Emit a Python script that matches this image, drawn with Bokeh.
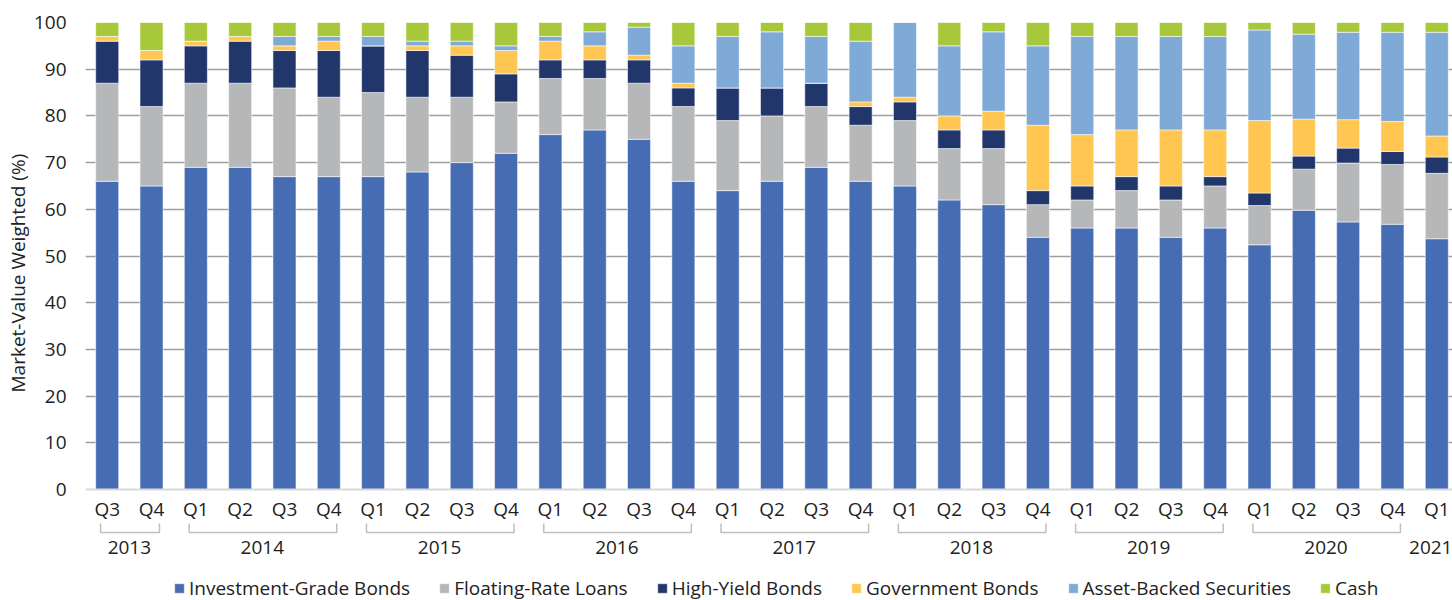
import math
from bokeh.plotting import figure
from bokeh.models import (ColumnDataSource, FixedTicker, LinearAxis, Range1d, Legend,
                          LegendItem, Title)
from bokeh.embed import file_html
from bokeh.resources import INLINE

# ---------------- data ----------------
years = ["2013", "2013",
         "2014", "2014", "2014", "2014",
         "2015", "2015", "2015", "2015",
         "2016", "2016", "2016", "2016",
         "2017", "2017", "2017", "2017",
         "2018", "2018", "2018", "2018",
         "2019", "2019", "2019", "2019",
         "2020", "2020", "2020", "2020",
         "2021"]
quarters = ["Q3", "Q4",
            "Q1", "Q2", "Q3", "Q4",
            "Q1", "Q2", "Q3", "Q4",
            "Q1", "Q2", "Q3", "Q4",
            "Q1", "Q2", "Q3", "Q4",
            "Q1", "Q2", "Q3", "Q4",
            "Q1", "Q2", "Q3", "Q4",
            "Q1", "Q2", "Q3", "Q4",
            "Q1"]
investment_grade = [66, 65, 69, 69, 67, 67, 67, 68, 70, 72, 76, 77, 75, 66, 64, 66, 69, 66,
                    65, 62, 61, 54, 56, 56, 54, 56, 52.4, 59.8, 57.3, 56.8, 53.7]
floating_rate = [21, 17, 18, 18, 19, 17, 18, 16, 14, 11, 12, 11, 12, 16, 15, 14, 13, 12,
                 14, 11, 12, 7, 6, 8, 8, 9, 8.4, 8.8, 12.6, 12.8, 14.0]
high_yield = [9, 10, 8, 9, 8, 10, 10, 10, 9, 6, 4, 4, 5, 4, 7, 6, 5, 4,
              4, 4, 4, 3, 3, 3, 3, 2, 2.7, 2.8, 3.2, 2.8, 3.5]
government = [1, 2, 1, 1, 1, 2, 0, 1, 2, 5, 4, 3, 1, 1, 0, 0, 0, 1,
              1, 3, 4, 14, 11, 10, 12, 10, 15.5, 7.9, 6.1, 6.4, 4.5]
asset_backed = [0, 0, 0, 0, 2, 1, 2, 1, 1, 1, 1, 3, 6, 8, 11, 12, 10, 13,
                16, 15, 17, 17, 21, 20, 20, 20, 19.4, 18.2, 18.7, 19.1, 22.2]
cash = [3, 6, 4, 3, 3, 3, 3, 4, 4, 5, 3, 2, 1, 5, 3, 2, 3, 4,
        0, 5, 2, 5, 3, 3, 3, 3, 1.6, 2.5, 2.1, 2.1, 2.1]

series_names = ["Investment-Grade Bonds", "Floating-Rate Loans", "High-Yield Bonds",
                "Government Bonds", "Asset-Backed Securities", "Cash"]
series_keys = ["ig", "frl", "hy", "gov", "abs", "cash"]
colors = ["#466CB4", "#B6B7B9", "#21366B", "#FFC751", "#7FA9D7", "#A8C83C"]
y_ticks = [0, 10, 20, 30, 40, 50, 60, 70, 80, 90, 100]

FONT = "Open Sans"
TXT = "#222222"
FS = "19px"

# layout constants (pixels)
H, W = 600, 1452
TOP, LEFT = 22, 85
BASE_PX = 489                       # pixel row of value 0
PPU = (BASE_PX - TOP) / 100.0       # pixels per percentage point
CAT_PX = 44.32                      # pixels per category
X0 = -(106.7 - LEFT) / CAT_PX       # left edge of frame in category units
X1 = X0 + (W - LEFT) / CAT_PX
YMIN = -(H - BASE_PX) / PPU         # frame reaches to bottom of canvas

x = list(range(len(quarters)))
source = ColumnDataSource(dict(x=x, ig=investment_grade, frl=floating_rate, hy=high_yield,
                               gov=government, abs=asset_backed, cash=cash))

p = figure(width=W, height=H, output_backend="svg", toolbar_location=None,
           x_range=Range1d(X0, X1), y_range=Range1d(YMIN, 100),
           x_axis_location=None,
           min_border_left=LEFT, min_border_right=0, min_border_top=TOP, min_border_bottom=0)
p.outline_line_color = None
p.background_fill_color = "white"

renderers = p.vbar_stack(series_keys, x="x", width=0.52, source=source, color=colors,
                         line_color="white", line_width=0.8, line_alpha=0.7)

# y axis
p.yaxis.ticker = FixedTicker(ticks=y_ticks)
p.yaxis.axis_line_color = None
p.yaxis.major_tick_line_color = None
p.yaxis.minor_tick_line_color = None
p.yaxis.major_tick_out = 0
p.yaxis.minor_tick_out = 0
p.yaxis.major_label_standoff = 19
p.yaxis.major_label_text_font = FONT
p.yaxis.major_label_text_font_size = FS
p.yaxis.major_label_text_color = TXT

p.xgrid.visible = False
p.ygrid.ticker = FixedTicker(ticks=y_ticks[1:])
p.ygrid.grid_line_color = "#9E9E9E"
p.ygrid.grid_line_width = 1.6

# x axis: quarters, sitting on the zero line
qa = LinearAxis(ticker=FixedTicker(ticks=x), fixed_location=0,
                major_label_overrides={i: q for i, q in enumerate(quarters)})
qa.axis_line_color = "#D9D9D9"
qa.axis_line_width = 2
qa.major_tick_line_color = None
qa.minor_tick_line_color = None
qa.major_tick_out = 0
qa.minor_tick_out = 0
qa.major_label_standoff = 6
qa.major_label_text_font = FONT
qa.major_label_text_font_size = FS
qa.major_label_text_color = TXT
p.add_layout(qa, "below")

# year groups
groups = []
for i, yv in enumerate(years):
    if groups and groups[-1][0] == yv:
        groups[-1][2] = i
    else:
        groups.append([yv, i, i])
year_centers = [(a + b) / 2 for _, a, b in groups]

y_top = -(523 - BASE_PX) / PPU
y_bot = -(532 - BASE_PX) / PPU

ya = LinearAxis(ticker=FixedTicker(ticks=year_centers), fixed_location=y_bot,
                major_label_overrides={c: g[0] for c, g in zip(year_centers, groups)})
ya.axis_line_color = None
ya.major_tick_line_color = None
ya.minor_tick_line_color = None
ya.major_tick_out = 0
ya.minor_tick_out = 0
ya.major_label_standoff = 8
ya.major_label_text_font = FONT
ya.major_label_text_font_size = FS
ya.major_label_text_color = TXT
p.add_layout(ya, "below")

# brackets under each year's quarters
bx, by = [], []
for name, a, b in groups:
    if b > a:
        x0, x1 = a - 0.15, b + 0.18
        bx.append([x0, x0, x1, x1])
        by.append([y_top, y_bot, y_bot, y_top])
p.multi_line(xs=bx, ys=by, line_color="#BFBFBF", line_width=1.5)

# y title
p.add_layout(Title(text="Market-Value Weighted (%)", align="left", offset=208,
                   text_font=FONT, text_font_size=FS, text_font_style="normal",
                   text_color=TXT, standoff=0), "left")

# legend
legend = Legend(items=[LegendItem(label=n, renderers=[r]) for n, r in zip(series_names, renderers)],
                orientation="horizontal", location=(88, -1),
                padding=0, margin=0, spacing=28, glyph_width=12, glyph_height=12,
                label_standoff=4, border_line_color=None, background_fill_alpha=0,
                label_text_font=FONT, label_text_font_size=FS, label_text_color=TXT)
p.add_layout(legend, "center")

open("out.html", "w").write(file_html(p, INLINE))
